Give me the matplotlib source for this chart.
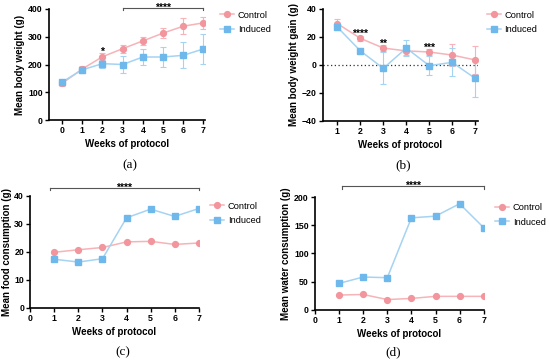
import matplotlib
matplotlib.use("Agg")
import matplotlib.pyplot as plt
import numpy as np

plt.rcParams['font.family'] = ['Liberation Sans', 'DejaVu Sans']

# ---- data ----
weeks_a = [0, 1, 2, 3, 4, 5, 6, 7]
bw_control = [132, 184, 228, 257, 285, 313, 338, 350]
bw_control_err = [10, 12, 12, 15, 15, 18, 28, 22]
bw_induced = [137, 181, 203, 200, 227, 227, 233, 256]
bw_induced_err = [8, 10, 15, 30, 28, 37, 47, 55]

weeks_b = [1, 2, 3, 4, 5, 6, 7]
gain_control = [29.5, 19, 12, 10, 9.2, 7, 3.5]
gain_control_err = [3, 2, 2, 3, 2, 8, 10]
gain_induced = [27, 10, -2.5, 12, -0.6, 1.8, -9.7]
gain_induced_err = [2, 2, 11.5, 6, 7, 10, 13]

weeks_c = [1, 2, 3, 4, 5, 6, 7]
food_control = [19.8, 20.7, 21.5, 23.5, 23.7, 22.6, 23.1]
food_induced = [17.3, 16.3, 17.5, 32.1, 35.2, 32.6, 35.4]

water_control = [26, 27, 18, 20, 23.7, 23.7, 23.7]
water_induced = [46.7, 58, 56.8, 163, 166, 188, 145.6]

PINK_M = '#F2959D'
PINK_L = '#F6B3B8'
BLUE_M = '#6FB8EC'
BLUE_L = '#A5D3F2'

fig = plt.figure(figsize=(5.5, 3.63), dpi=100)
W, H = 550, 363

def add_ax(l, r, t, b):
    return fig.add_axes([l / W, 1 - b / H, (r - l) / W, (b - t) / H])

def style(ax):
    for s in ['top', 'right']:
        ax.spines[s].set_visible(False)
    for s in ['left', 'bottom']:
        ax.spines[s].set_linewidth(1.2)
    ax.tick_params(axis='both', direction='out', length=3, width=1.0,
                   labelsize=6.3, pad=1.5)
    for lab in ax.get_xticklabels() + ax.get_yticklabels():
        lab.set_fontweight('bold')

def series(ax, x, y, err, color_m, color_l, marker, label):
    if err is not None:
        ax.errorbar(x, y, yerr=err, fmt='none', ecolor=color_l, elinewidth=0.8,
                    capsize=2.4, capthick=0.8, zorder=2)
    ax.plot(x, y, color=color_l, lw=1.1, zorder=3, label=label,
            marker=marker, markersize=4.2, markerfacecolor=color_m,
            markeredgecolor=color_m)

def legend(ax, x, y):
    ax.legend(loc='upper left', bbox_to_anchor=(x, y), frameon=False,
              fontsize=6.7, handlelength=1.5, handletextpad=0.4,
              labelspacing=0.6, borderaxespad=0, borderpad=0)

def stars(ax, x, y, text):
    ax.annotate(text, xy=(x, y), xytext=(0, -2.0), textcoords='offset points',
                ha='center', va='baseline', fontsize=7.5, fontweight='bold',
                annotation_clip=False)

def sigbar(ax, x0, x1, y, text):
    ax.plot([x0, x1], [y, y], color='#555555', lw=0.8, clip_on=False)
    cap = (ax.get_ylim()[1] - ax.get_ylim()[0]) * 0.025
    for xx in (x0, x1):
        ax.plot([xx, xx], [y, y - cap], color='#555555', lw=0.8, clip_on=False)
    stars(ax, (x0 + x1) / 2, y, text)

def panel_label(x, y, s):
    fig.text(x / W, 1 - y / H, s, ha='center', va='center', fontsize=9.5,
             family='Liberation Serif')

# ---- (a) ----
ax = add_ax(49, 205, 9, 120)
series(ax, weeks_a, bw_control, bw_control_err, PINK_M, PINK_L, 'o', 'Control')
series(ax, weeks_a, bw_induced, bw_induced_err, BLUE_M, BLUE_L, 's', 'Induced')
ax.set_xlim(-0.65, 7.08)
ax.set_ylim(0, 400)
ax.set_xticks(weeks_a)
ax.set_yticks([0, 100, 200, 300, 400])
ax.set_xlabel('Weeks of protocol', fontsize=7, fontweight='bold', labelpad=3)
ax.set_ylabel('Mean body weight (g)', fontsize=7, fontweight='bold', labelpad=2)
style(ax)
stars(ax, 2, 245, '*')
sigbar(ax, 3, 7, 405, '****')
legend(ax, 1.096, 0.985)
panel_label(130, 165, '(a)')

# ---- (b) ----
ax = add_ax(322.7, 477.5, 9, 120.7)
ax.axhline(0, color='#333333', lw=0.9, ls=(0, (1, 2)), zorder=1)
series(ax, weeks_b, gain_control, gain_control_err, PINK_M, PINK_L, 'o', 'Control')
series(ax, weeks_b, gain_induced, gain_induced_err, BLUE_M, BLUE_L, 's', 'Induced')
ax.set_xlim(0.36, 7.1)
ax.set_ylim(-40, 40)
ax.set_xticks(weeks_b)
ax.set_yticks([-40, -20, 0, 20, 40])
ax.set_xlabel('Weeks of protocol', fontsize=7, fontweight='bold', labelpad=3)
ax.set_ylabel('Mean body weight gain (g)', fontsize=7, fontweight='bold', labelpad=2)
style(ax)
stars(ax, 2, 22, '****')
stars(ax, 3, 15, '**')
stars(ax, 5, 12, '***')
legend(ax, 1.061, 0.985)
panel_label(403, 165, '(b)')

# ---- (c) ----
ax = add_ax(30.3, 198.7, 195.7, 307.7)
series(ax, weeks_c, food_control, None, PINK_M, PINK_L, 'o', 'Control')
series(ax, weeks_c, food_induced, None, BLUE_M, BLUE_L, 's', 'Induced')
ax.set_xlim(0, 7)
ax.set_ylim(0, 40)
ax.set_xticks(range(0, 8))
ax.set_yticks([0, 10, 20, 30, 40])
ax.set_xlabel('Weeks of protocol', fontsize=7, fontweight='bold', labelpad=3)
ax.set_ylabel('Mean food consumption (g)', fontsize=7, fontweight='bold', labelpad=2)
style(ax)
sigbar(ax, 0.83, 7, 42.9, '****')
legend(ax, 1.067, 0.946)
panel_label(123, 352, '(c)')

# ---- (d) ----
ax = add_ax(315, 483.7, 197, 309.7)
series(ax, weeks_c, water_control, None, PINK_M, PINK_L, 'o', 'Control')
series(ax, weeks_c, water_induced, None, BLUE_M, BLUE_L, 's', 'Induced')
ax.set_xlim(0, 7)
ax.set_ylim(0, 200)
ax.set_xticks(range(0, 8))
ax.set_yticks([0, 50, 100, 150, 200])
ax.set_xlabel('Weeks of protocol', fontsize=7, fontweight='bold', labelpad=3)
ax.set_ylabel('Mean water consumption (g)', fontsize=7, fontweight='bold', labelpad=2)
style(ax)
sigbar(ax, 1.13, 7, 219.5, '****')
legend(ax, 1.067, 0.947)
panel_label(393, 352, '(d)')

fig.savefig('out.png', dpi=100, facecolor='white')
